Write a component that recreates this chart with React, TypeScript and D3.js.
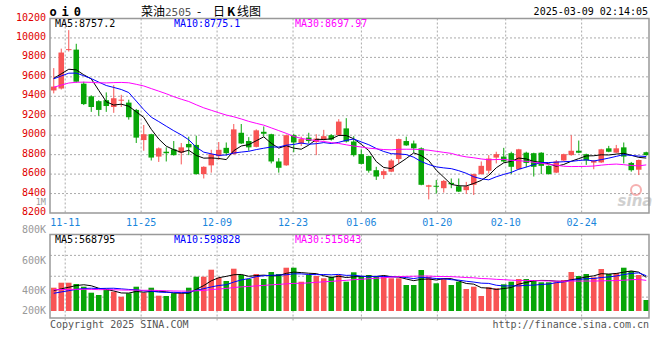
import React from "react";
import * as d3 from "d3";

// ---- data ----
const opens = [9460,9480,9875,9880,9530,9400,9350,9360,9290,9355,9335,9260,8950,9010,8780,8830,8855,8820,8910,8900,8600,8690,8785,8870,8805,9025,8940,8880,9035,9010,8730,8690,9000,8915,8975,8930,8950,9000,9000,9070,8935,8805,8785,8640,8590,8625,8755,8940,8915,8865,8470,8480,8455,8510,8475,8435,8490,8600,8635,8770,8780,8815,8650,8820,8815,8820,8685,8615,8740,8795,8840,8805,8718,8720,8865,8820,8875,8715,8645,8825];
const highs = [9690,9890,10080,9940,9550,9410,9360,9440,9515,9415,9365,9270,9105,9015,8875,8875,8940,8920,8985,8995,8680,8850,8930,8925,9115,9115,8980,9060,9090,9015,8765,9005,9015,8985,9025,9010,9055,9010,9165,9175,8990,8855,8790,8675,8650,8755,8965,8985,8945,8875,8490,8540,8540,8555,8555,8520,8605,8730,8795,8830,8870,8830,8860,8830,8820,8825,8690,8745,8810,9000,8945,8810,8745,8860,8890,8900,8925,8725,8750,8830];
const lows = [9430,9470,9860,9540,9310,9240,9200,9240,9230,9290,9160,8920,8840,8740,8725,8730,8790,8700,8795,8595,8555,8615,8745,8790,8800,8910,8840,8875,8985,8710,8615,8685,8825,8890,8915,8795,8945,8945,8995,8925,8780,8700,8615,8540,8550,8620,8710,8890,8820,8485,8340,8400,8410,8455,8415,8395,8385,8595,8605,8710,8720,8600,8645,8670,8575,8600,8595,8610,8735,8790,8815,8695,8650,8715,8825,8815,8710,8625,8590,8790];
const closes = [9500,9850,9885,9550,9320,9290,9260,9300,9380,9365,9185,8975,9010,8770,8865,8815,8795,8875,8875,8600,8675,8805,8850,8815,9060,8915,8875,9050,9015,8730,8665,9000,8925,8960,8940,8965,8990,8955,9140,8935,8795,8705,8635,8575,8630,8740,8960,8895,8865,8490,8485,8470,8530,8495,8420,8475,8600,8685,8760,8805,8730,8675,8855,8715,8675,8685,8600,8730,8805,8840,8820,8740,8738,8855,8830,8865,8780,8640,8745,8795];
// volumes in thousands of lots
const volumes = [396,481,481,459,413,311,272,379,328,243,301,413,311,396,260,255,301,301,396,583,583,702,566,510,719,612,544,629,544,663,629,736,736,498,612,595,556,583,612,498,658,583,612,583,583,556,556,442,442,697,583,471,556,442,498,374,413,255,403,386,454,498,544,544,527,488,488,488,527,663,595,629,573,714,629,646,736,680,612,187];
// the 29 sessions before the window, needed for the moving averages
const priorCloses = [9180,9250,9320,9280,9350,9400,9330,9290,9310,9290,9450,9520,9580,9650,9620,9700,9660,9580,9610,9620,9560,9600,9540,9590,9585,9620,9650,9580,9575];
const priorVolumes = [400,380,420,390,360,410,370,350,400,380,420,390,360,410,380,400,370,420,390,420,250,270,240,260,265,320,350,310,349];

const dateLabels = ["11-11","11-25","12-09","12-23","01-06","01-20","02-10","02-24"];
const dateIdx = [2,12,22,32,41,51,60,70];
const priceTicks = [10200,10000,9800,9600,9400,9200,9000,8800,8600,8400,8200];
const volLabels = ["1M","800K","600K","400K","200K"];
const volLabelVals = [1000,800,600,400,200];
const priceLegend = ["MA5:8757.2","MA10:8775.1","MA30:8697.97"];
const volLegend = ["MA5:568795","MA10:598828","MA30:515843"];
const maPeriods = [5,10,30];
const maColors = ["#000000","#0000ff","#ff00ff"];
const titleParts = ["菜油","2505","-","日","K","线图"];

const RED = "#f85454";
const GREEN = "#08a508";
const MONO = "'DejaVu Sans Mono', 'Liberation Mono', monospace";
const CJK = "'Noto Sans CJK SC', sans-serif";

function movingAvg(prior: number[], vals: number[], n: number): number[] {
  const all = prior.concat(vals);
  const off = prior.length;
  return vals.map((_, i) => d3.mean(all.slice(off + i - n + 1, off + i + 1)) as number);
}

export default function App() {
  const L = 50, R = 650;
  const pTop = 18.5, pBot = 213;
  const vTop = 234.5, vBot = 318, vBase = 311;
  const n = closes.length;

  const x = d3.scaleBand<number>().domain(d3.range(n)).range([L, R]);
  const bw = x.bandwidth();
  const cx = (i: number) => (x(i) as number) + bw / 2;
  const xg = d3.scaleLinear().domain([0, n - 1]).range([L, R]);
  const y = d3.scaleLinear().domain([8200, 10200]).range([pBot, pTop]);
  const yv = d3.scaleLinear().domain([0, 1000]).range([vBase, vBase - 1000 / 17]);
  const yvLabel = d3.scaleLinear().domain(volLabelVals).range([204.5, 232.5, 264, 294, 314]);
  const volGrid = d3.scaleLinear().domain([0, 4]).range([vTop, vBot]);

  const priceMA = maPeriods.map((p) => movingAvg(priorCloses, closes, p));
  const volMA = maPeriods.map((p) => movingAvg(priorVolumes, volumes, p));
  const lineP = d3.line<number>().x((_, i) => cx(i)).y((d) => y(d));
  const lineV = d3.line<number>().x((_, i) => cx(i)).y((d) => yv(d));

  const body = bw * 0.74;
  const legendX = [55, 174, 295];
  const titleX = [141, 165, 197, 213, 227, 237];

  return (
    <div>
      <style>{`body{margin:0;background:#fff}`}</style>
      <svg width={660} height={360} viewBox="0 0 660 360" style={{ display: "block" }}>
        <rect x={0} y={0} width={660} height={360} fill="#fff" />
        {/* header */}
        {["o", "i", "0"].map((c, k) => (
          <text key={c} x={53 + k * 12.2} y={16} textAnchor="middle" fontFamily={MONO} fontWeight="bold" fontSize={12} fill="#000">{c}</text>
        ))}
        {titleParts.map((t, k) => (
          <text key={"t" + k} x={titleX[k]} y={15.5}
            fontFamily={k === 1 ? MONO : CJK}
            fontSize={k === 1 ? 11 : 12}
            fontWeight={k === 4 ? "bold" : "normal"}
            fill={k === 1 ? "#555" : "#000"}>{t}</text>
        ))}
        <text x={648} y={15} textAnchor="end" fontFamily={MONO} fontSize={10} fill="#000">2025-03-09 02:14:05</text>

        {/* price grid */}
        {priceTicks.slice(1, -1).map((t) => (
          <line key={t} x1={L} x2={R} y1={y(t)} y2={y(t)} stroke="#aaa" strokeDasharray="2,2" />
        ))}
        {dateIdx.map((d) => (
          <line key={"pv" + d} x1={xg(d)} x2={xg(d)} y1={pTop} y2={pBot} stroke="#aaa" strokeDasharray="2,2" />
        ))}
        {/* volume grid */}
        {[1, 2, 3].map((k) => (
          <line key={"vh" + k} x1={L} x2={R} y1={volGrid(k)} y2={volGrid(k)} stroke="#aaa" strokeDasharray="2,2" />
        ))}
        {dateIdx.map((d) => (
          <line key={"vv" + d} x1={xg(d)} x2={xg(d)} y1={vTop} y2={vBot + 4} stroke="#aaa" strokeDasharray="2,2" />
        ))}

        {/* price axis labels */}
        {priceTicks.map((t) => (
          <text key={"pl" + t} x={46} y={y(t) + 2} textAnchor="end" fontFamily={MONO} fontSize={10} fill="#e00000">{t}</text>
        ))}
        {/* volume axis labels */}
        {volLabels.map((l, k) => (
          <text key={l} x={46} y={yvLabel(volLabelVals[k])} textAnchor="end" fontFamily={MONO} fontSize={k === 0 ? 8.5 : 10} fill="#999">{l}</text>
        ))}
        {/* date labels */}
        {dateLabels.map((l, k) => (
          <text key={l} x={xg(dateIdx[k])} y={225.5} textAnchor="middle" fontFamily={MONO} fontSize={10} fill="#1a86dc">{l}</text>
        ))}

        {/* sina watermark */}
        <g opacity={0.55}>
          <circle cx={636} cy={190} r={5} fill="none" stroke="#f07070" strokeWidth={2} />
          <text x={635} y={206} textAnchor="middle" fontFamily="'DejaVu Sans', sans-serif" fontStyle="italic" fontWeight="bold" fontSize={15} fill="#aaa">sina</text>
        </g>

        {/* candles */}
        {closes.map((c, i) => {
          const up = c >= opens[i];
          const col = up ? RED : GREEN;
          const top = y(Math.max(c, opens[i]));
          const bot = y(Math.min(c, opens[i]));
          return (
            <g key={"c" + i}>
              <line x1={cx(i)} x2={cx(i)} y1={y(highs[i])} y2={y(lows[i])} stroke={col} strokeWidth={1} />
              <rect x={cx(i) - body / 2} y={top} width={body} height={Math.max(1, bot - top)} fill={col} />
            </g>
          );
        })}
        {priceMA.map((m, k) => (
          <path key={"pm" + k} d={lineP(m) as string} fill="none" stroke={maColors[k]} strokeWidth={1} />
        ))}

        {/* volume bars */}
        {volumes.map((v, i) => (
          <rect key={"v" + i} x={cx(i) - body / 2} y={yv(v)} width={body} height={vBase - yv(v)} fill={closes[i] >= opens[i] ? RED : GREEN} />
        ))}
        {volMA.map((m, k) => (
          <path key={"vm" + k} d={lineV(m) as string} fill="none" stroke={maColors[k]} strokeWidth={1} />
        ))}

        {/* panel borders */}
        <rect x={L} y={pTop} width={R - L - 1} height={pBot - pTop} fill="none" stroke="#999" strokeWidth={1.5} />
        <rect x={L} y={vTop} width={R - L - 1} height={vBot - vTop} fill="none" stroke="#999" strokeWidth={1.5} />

        {/* legends */}
        {priceLegend.map((t, k) => (
          <text key={t} x={legendX[k]} y={27} fontFamily={MONO} fontSize={10} fill={maColors[k]}>{t}</text>
        ))}
        {volLegend.map((t, k) => (
          <text key={t} x={legendX[k]} y={243} fontFamily={MONO} fontSize={10} fill={maColors[k]}>{t}</text>
        ))}

        {/* footer */}
        <text x={50} y={328} fontFamily={MONO} fontSize={10} fill="#555">Copyright 2025 SINA.COM</text>
        <text x={649} y={328} textAnchor="end" fontFamily={MONO} fontSize={10} fill="#555">http://finance.sina.com.cn</text>
      </svg>
    </div>
  );
}
